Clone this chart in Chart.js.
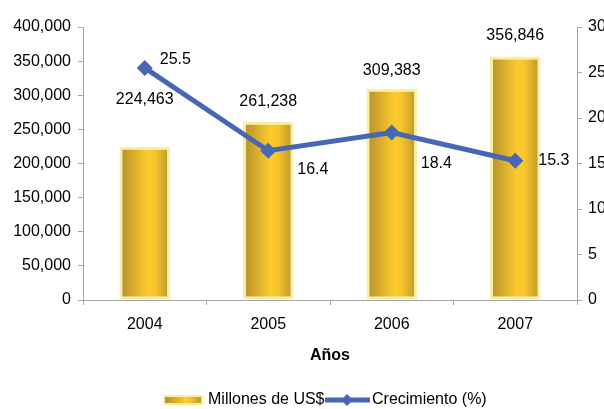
<!DOCTYPE html>
<html>
<head>
<meta charset="utf-8">
<script src="https://cdn.jsdelivr.net/npm/chart.js@4.4.1/dist/chart.umd.min.js"></script>
<style>
  html, body { margin: 0; padding: 0; background: #ffffff; overflow: hidden; }
  #wrap { position: relative; width: 620px; height: 409px; }
</style>
</head>
<body>
<div id="wrap"><canvas id="grafico"></canvas></div>
<script>
// DATOS
var anios = ["2004", "2005", "2006", "2007"];
var millones = [224463, 261238, 309383, 356846];
var crecimiento = [25.5, 16.4, 18.4, 15.3];
var ticksIzq = [0, 50000, 100000, 150000, 200000, 250000, 300000, 350000, 400000];
var ticksDer = [0, 5, 10, 15, 20, 25, 30];

var fuente = "'Liberation Sans', Arial, sans-serif";
var azul = "#4767b4";
var anchoBarra = 0.41;

// degradado horizontal de cada barra
function degradado(ctx, x0, x1) {
    var g = ctx.createLinearGradient(x0, 0, x1, 0);
    g.addColorStop(0, "#b48f2c");
    g.addColorStop(0.55, "#fdca2c");
    g.addColorStop(0.7, "#f7c42c");
    g.addColorStop(1, "#b8922e");
    return g;
}

function colorBarra(context) {
    var chart = context.chart;
    var x = chart.scales.x;
    if (!x || !chart.chartArea || context.dataIndex === undefined) {
        return "#f0c030";
    }
    var c = x.getPixelForValue(context.dataIndex);
    var w = (chart.chartArea.right - chart.chartArea.left) / anios.length * anchoBarra;
    return degradado(chart.ctx, c - w / 2, c + w / 2);
}

// etiquetas de datos, titulo del eje y leyenda
var subeBarra = [47, 20, 18, 21];
var despLinea = [[15, -8], [29, 19], [29, 31], [23, 0]];

var extras = {
    id: "extras",
    afterDatasetsDraw: function (chart) {
        var ctx = chart.ctx;
        var metaL = chart.getDatasetMeta(0);
        var metaB = chart.getDatasetMeta(1);
        ctx.save();
        ctx.fillStyle = "#000000";
        ctx.font = "16px " + fuente;
        ctx.textBaseline = "middle";
        ctx.textAlign = "center";
        metaB.data.forEach(function (b, i) {
            ctx.fillText(millones[i].toLocaleString("en-US"), b.x, b.y - subeBarra[i]);
        });
        ctx.textAlign = "left";
        metaL.data.forEach(function (p, i) {
            ctx.fillText(crecimiento[i].toFixed(1), p.x + despLinea[i][0], p.y + despLinea[i][1]);
        });

        // titulo eje x
        var area = chart.chartArea;
        ctx.textAlign = "center";
        ctx.font = "bold 16px " + fuente;
        ctx.fillText("Años", (area.left + area.right) / 2, 356);

        // leyenda
        ctx.font = "16px " + fuente;
        ctx.textAlign = "left";
        var ly = 400;
        ctx.fillStyle = "#f6f0a4";
        ctx.fillRect(163, ly - 5, 40, 10);
        ctx.fillStyle = degradado(ctx, 165, 201);
        ctx.fillRect(165, ly - 3, 36, 6);
        ctx.fillStyle = "#000000";
        ctx.fillText("Millones de US$", 208, ly);

        ctx.strokeStyle = azul;
        ctx.lineWidth = 5;
        ctx.beginPath();
        ctx.moveTo(325, ly);
        ctx.lineTo(370, ly);
        ctx.stroke();
        ctx.fillStyle = azul;
        ctx.beginPath();
        ctx.moveTo(347, ly - 6);
        ctx.lineTo(353, ly);
        ctx.lineTo(347, ly + 6);
        ctx.lineTo(341, ly);
        ctx.closePath();
        ctx.fill();
        ctx.fillStyle = "#000000";
        ctx.fillText("Crecimiento (%)", 372, ly);
        ctx.restore();
    }
};

var ejeGris = "#a6a6a6";

var config = {
    data: {
        labels: anios,
        datasets: [{
            type: "line",
            label: "Crecimiento (%)",
            data: crecimiento,
            yAxisID: "y1",
            borderColor: azul,
            backgroundColor: azul,
            borderWidth: 5,
            pointStyle: "rectRot",
            pointRadius: 8,
            pointHoverRadius: 8,
            pointBackgroundColor: azul,
            pointBorderColor: azul,
            pointBorderWidth: 0,
            tension: 0,
            order: 0
        }, {
            type: "bar",
            label: "Millones de US$",
            data: millones,
            yAxisID: "y",
            backgroundColor: colorBarra,
            borderColor: "#f6f0a4",
            borderWidth: 3,
            borderSkipped: false,
            barPercentage: anchoBarra,
            categoryPercentage: 1,
            order: 1
        }]
    },
    options: {
        responsive: false,
        animation: false,
        devicePixelRatio: 1,
        layout: { padding: { top: 27, left: 0, right: 0, bottom: 0 } },
        plugins: {
            legend: { display: false },
            tooltip: { enabled: false }
        },
        scales: {
            x: {
                offset: true,
                grid: { offset: true, drawOnChartArea: false, color: ejeGris, tickLength: 5 },
                border: { color: ejeGris, width: 1 },
                ticks: { color: "#000000", font: { family: fuente, size: 16 }, padding: 10 },
                afterFit: function (s) { s.height = 109; }
            },
            y: {
                position: "left",
                min: 0,
                max: 400000,
                afterBuildTicks: function (s) {
                    s.ticks = ticksIzq.map(function (v) { return { value: v }; });
                },
                grid: { drawOnChartArea: false, color: ejeGris, tickLength: 5 },
                border: { color: ejeGris, width: 1 },
                ticks: {
                    color: "#000000",
                    font: { family: fuente, size: 16 },
                    padding: 7,
                    callback: function (v) { return v.toLocaleString("en-US"); }
                },
                afterFit: function (s) { s.width = 83; }
            },
            y1: {
                position: "right",
                min: 0,
                max: 30,
                afterBuildTicks: function (s) {
                    s.ticks = ticksDer.map(function (v) { return { value: v }; });
                },
                grid: { drawOnChartArea: false, color: ejeGris, tickLength: 5 },
                border: { color: ejeGris, width: 1 },
                ticks: { color: "#000000", font: { family: fuente, size: 16 }, padding: 6 },
                afterFit: function (s) { s.width = 43; }
            }
        }
    },
    plugins: [extras]
};

var lienzo = document.getElementById("grafico");
lienzo.width = 620;
lienzo.height = 409;
new Chart(lienzo.getContext("2d"), config);
</script>
</body>
</html>
